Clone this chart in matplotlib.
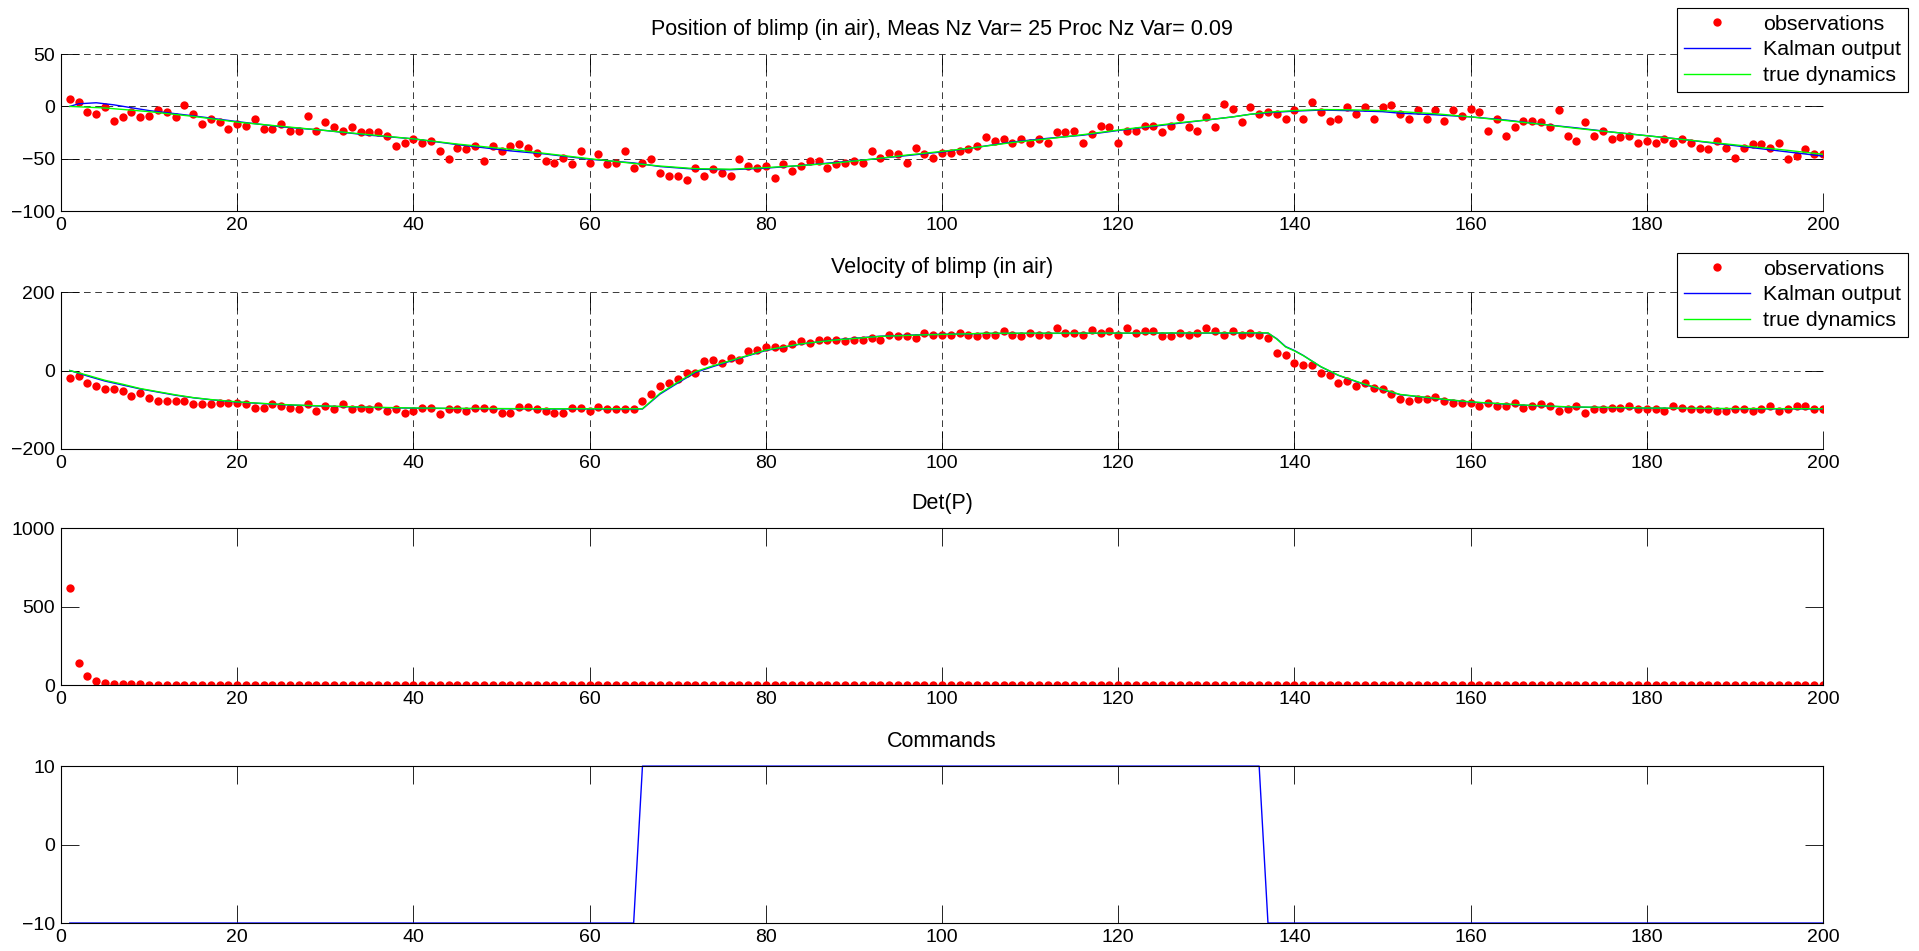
import numpy as np
import matplotlib.pyplot as plt

plt.rcParams['font.family'] = ['Liberation Sans', 'DejaVu Sans']
plt.rcParams['font.size'] = 14

#%% measured data (sample index 1..200)
t = np.arange(1, 201)

pos_obs = [7.4, 4.2, -5.5, -7, -0.6, -13.5, -10.3, -5.5, -10.3, -8.7,
           -3.2, -5.5, -10.3, 1, -7, -16.8, -12, -15.2, -21.6, -16.8,
           -18.4, -12, -21.6, -21.6, -16.8, -23.2, -23.2, -8.7, -23.2, -15.2,
           -20, -23.2, -20, -24.8, -24.8, -24.8, -28, -37.7, -34.5, -31.3,
           -34.5, -32.9, -42.6, -50.6, -39.4, -41, -37.7, -52.3, -37.7, -42.6,
           -37.7, -36.1, -39.4, -44.2, -52.3, -53.9, -49, -55.5, -42.6, -53.9,
           -45.8, -55.5, -53.9, -42.6, -58.7, -53.9, -50.6, -63.5, -66.8, -66.8,
           -70, -58.7, -66.8, -60.3, -63.5, -66.8, -50.6, -57.1, -58.7, -57.1,
           -68.4, -55.5, -61.9, -57.1, -52.3, -52.3, -58.7, -55.5, -53.9, -52.3,
           -53.9, -42.6, -49, -44.2, -45.8, -53.9, -39.4, -45.8, -49, -44.2,
           -44.2, -42.6, -41, -37.7, -29.7, -32.9, -31.3, -34.5, -31.3, -34.5,
           -31.3, -34.5, -24.8, -24.8, -23.2, -34.5, -26.5, -18.4, -20, -34.5,
           -23.2, -23.2, -18.4, -18.4, -24.8, -18.4, -10.3, -20, -23.2, -10.3,
           -20, 2.6, -2.3, -15.2, -0.6, -7, -5.5, -7, -12, -3.9,
           -12, 4.2, -5.5, -13.5, -12, -0.6, -7, -0.6, -12, -0.6,
           1, -7, -12, -3.9, -12, -3.9, -13.5, -3.9, -8.7, -2.3,
           -5.5, -23.2, -12, -28, -20, -13.5, -13.5, -15.2, -20, -3.9,
           -28, -32.9, -15.2, -28, -23.2, -31.3, -29.7, -28, -34.5, -32.9,
           -34.5, -31.3, -34.5, -31.3, -34.5, -39.4, -41, -32.9, -39.4, -49,
           -39.4, -36.1, -36.1, -39.4, -34.5, -50.6, -47.4, -41, -45.8, -45.8]

pos_kal_t = [1, 2, 4, 6, 10, 15, 20, 25, 30, 35, 40, 45, 51, 55, 60, 65, 68, 72,
             76, 80, 84, 88, 92, 96, 100, 104, 108, 112, 116, 120, 124, 127, 130,
             133, 135, 137, 140, 143, 146, 150, 152, 156, 160, 164, 168, 172, 176,
             180, 184, 188, 192, 196, 200]
pos_kal = [0, 2.5, 3.5, 1.5, -4, -9, -14.5, -19.5, -23, -27.5, -31, -36.5, -42.5,
           -45.5, -50.5, -54, -57.5, -60, -60.5, -59, -56.5, -53.5, -50.5, -47,
           -43.5, -39, -34, -30.5, -27.5, -23, -19, -16, -13, -10, -7.5, -6, -4.5,
           -3.5, -4, -5, -6.5, -8, -10, -13, -17, -20.5, -24.5, -28, -31.5, -35.5,
           -39.5, -43.5, -47.5]

pos_true_t = [1, 5, 10, 15, 20, 25, 30, 35, 40, 45, 51, 55, 60, 65, 68, 72, 76,
              80, 84, 88, 92, 96, 100, 104, 108, 112, 116, 120, 124, 127, 130, 133,
              135, 137, 140, 143, 146, 150, 152, 156, 160, 164, 168, 172, 176, 180,
              184, 188, 192, 196, 200]
pos_true = [0, -1.5, -5, -9.5, -15, -19, -23, -27, -31, -36, -41, -45, -50, -54.5,
            -57, -59.5, -60, -58.5, -56.5, -54, -50.5, -46.5, -43, -39, -34.5, -31,
            -27, -22.6, -18.5, -15.5, -13, -10, -7.5, -5.5, -4, -3, -3.2, -4, -5,
            -7, -10, -13.5, -17, -21, -24.5, -28, -31.5, -35, -38.5, -42, -45.8]

vel_obs = [-18.6, -14.4, -31.4, -39.8, -48.3, -48.3, -52.5, -65.3, -56.8, -69.5,
           -78, -78, -78, -78, -86.4, -86.4, -86.4, -82.2, -82.2, -82.2,
           -86.4, -94.9, -94.9, -86.4, -90.7, -94.9, -99.2, -86.4, -103.4, -90.7,
           -99.2, -86.4, -99.2, -94.9, -99.2, -90.7, -103.4, -99.2, -107.6, -103.4,
           -94.9, -94.9, -111.9, -99.2, -99.2, -103.4, -94.9, -94.9, -99.2, -107.6,
           -107.6, -93.2, -93.2, -97.5, -103.4, -107.6, -107.6, -94.9, -94.9, -103.4,
           -93.2, -97.5, -97.5, -97.5, -97.5, -78, -61, -39.8, -31.4, -22.9,
           -5.9, -5.9, 23.7, 28, 19.5, 32.2, 28, 49.2, 53.4, 59.3,
           59.3, 57.6, 67.8, 76.3, 70.3, 78.8, 78.8, 78.8, 74.6, 78.8,
           78.8, 83, 78.8, 91.5, 87.3, 87.3, 83, 95.8, 91.5, 91.5,
           91.5, 95.8, 91.5, 87.3, 91.5, 91.5, 100, 91.5, 87.3, 95.8,
           91.5, 91.5, 108.5, 95.8, 95.8, 91.5, 104.2, 95.8, 100, 91.5,
           108.5, 95.8, 100, 100, 87.3, 87.3, 95.8, 91.5, 95.8, 108.5,
           100, 91.5, 100, 91.5, 95.8, 91.5, 83, 44.9, 40.7, 19.5,
           15.3, 15.3, -5.9, -10.2, -31.4, -27.1, -39.8, -31.4, -44, -48.3,
           -61, -73.7, -78, -73.7, -73.7, -67.8, -78, -82.2, -82.2, -82.2,
           -90.7, -82.2, -90.7, -90.7, -82.2, -94.9, -90.7, -86.4, -90.7, -103.4,
           -99.2, -90.7, -107.6, -99.2, -99.2, -94.9, -94.9, -90.7, -99.2, -99.2,
           -99.2, -103.4, -90.7, -94.9, -99.2, -99.2, -99.2, -103.4, -103.4, -99.2,
           -99.2, -103.4, -99.2, -90.7, -103.4, -99.2, -90.7, -90.7, -99.2, -99.2]

vel_t = [1, 3, 5, 7, 9, 11, 13, 15, 17, 20, 23, 26, 30, 35, 40, 45, 50, 55, 60, 66,
         68, 70, 72, 74, 77, 80, 84, 88, 93, 98, 102, 105, 137, 138, 139, 140, 141,
         143, 145, 148, 152, 156, 160, 166, 171, 180, 190, 200]
vel_kal = [0, -14, -27, -37, -47, -55, -63, -69.5, -74.5, -80.5, -84.5, -88, -91,
           -94, -96, -97, -97.5, -98, -98, -98, -60, -32, -5, 10, 31, 51, 67.5,
           78.5, 87.5, 91.5, 93, 94.5, 95.5, 81, 61, 51, 38.5, 9.5, -12.5, -36,
           -61.5, -71.5, -80.5, -88.5, -93, -96, -97.5, -98]
vel_true = [0, -12, -25, -35, -46, -54, -62, -69, -74, -80, -84, -87.5, -90.5,
            -93.5, -95.5, -96.5, -97, -97.5, -97.5, -97.5, -58, -30, -3, 12, 32,
            52, 68, 78, 87, 91, 93, 95, 96, 80, 60, 50, 38, 10, -12, -35, -61, -71,
            -80, -88, -92.5, -95.5, -97, -97.5]

# covariance determinant settles almost immediately
det_p = [620, 143, 58, 24, 15, 5.1, 4.2, 3.7, 3.4, 3.2] + [3.1] * 190

cmd_t = [1, 65, 66, 136, 137, 200]
cmd = [-10, -10, 10, 10, -10, -10]

#%%
fig = plt.figure(figsize=(19.19, 9.51), dpi=100)
left, width, height = 61 / 1919, 1762 / 1919, 0.165
ax1 = fig.add_axes([left, 0.7781, width, height])
ax2 = fig.add_axes([left, 0.5279, width, height])
ax3 = fig.add_axes([left, 0.2797, width, height])
ax4 = fig.add_axes([left, 0.0294, width, height])


def style_axes(ax, grid):
    ax.set_xlim(0, 200)
    ax.set_xticks(np.arange(0, 201, 20))
    ax.tick_params(direction='in', length=13, width=0.6, top=True, right=True,
                   pad=4.5, labelsize=14)
    for s in ax.spines.values():
        s.set_linewidth(0.8)
    if grid:
        ax.grid(True, color='0.1', linestyle=(0, (8, 5.5)), linewidth=0.6)
        ax.spines['top'].set_visible(False)
        ax.spines['right'].set_visible(False)


def add_legend(ax, top_px):
    leg = ax.legend(['observations', 'Kalman output', 'true dynamics'],
                    loc='upper right', bbox_to_anchor=(1908 / 1919, 1 - top_px / 951),
                    bbox_transform=fig.transFigure, borderaxespad=0, fancybox=False,
                    edgecolor='k', framealpha=1, handlelength=3.1, labelspacing=0.31,
                    borderpad=0.32, handletextpad=0.6, fontsize=15.4)
    leg.get_frame().set_linewidth(0.8)


ax1.plot(t, pos_obs, 'o', color='r', ms=6, mew=0)
ax1.plot(pos_kal_t, pos_kal, '-', color='b', lw=1)
ax1.plot(pos_true_t, pos_true, '-', color=(0, 1, 0), lw=1)
ax1.set_ylim(-100, 50)
ax1.set_yticks([-100, -50, 0, 50])
style_axes(ax1, True)
ax1.set_title('Position of blimp (in air), Meas Nz Var= 25 Proc Nz Var= 0.09',
              pad=14, fontsize=15.5)
add_legend(ax1, 8)

ax2.plot(t, vel_obs, 'o', color='r', ms=6, mew=0)
ax2.plot(vel_t, vel_kal, '-', color='b', lw=1)
ax2.plot(vel_t, vel_true, '-', color=(0, 1, 0), lw=1)
ax2.set_ylim(-200, 200)
ax2.set_yticks([-200, 0, 200])
style_axes(ax2, True)
ax2.set_title('Velocity of blimp (in air)', pad=14, fontsize=15.5)
add_legend(ax2, 253)

ax3.plot(t, det_p, 'o', color='r', ms=6, mew=0)
ax3.set_ylim(0, 1000)
ax3.set_yticks([0, 500, 1000])
style_axes(ax3, False)
ax3.set_title('Det(P)', pad=14, fontsize=15.5)

ax4.plot(cmd_t, cmd, '-', color='b', lw=1, clip_on=False)
ax4.set_ylim(-10, 10)
ax4.set_yticks([-10, 0, 10])
style_axes(ax4, False)
ax4.set_title('Commands', pad=14, fontsize=15.5)

fig.savefig('out.png', dpi=100)
